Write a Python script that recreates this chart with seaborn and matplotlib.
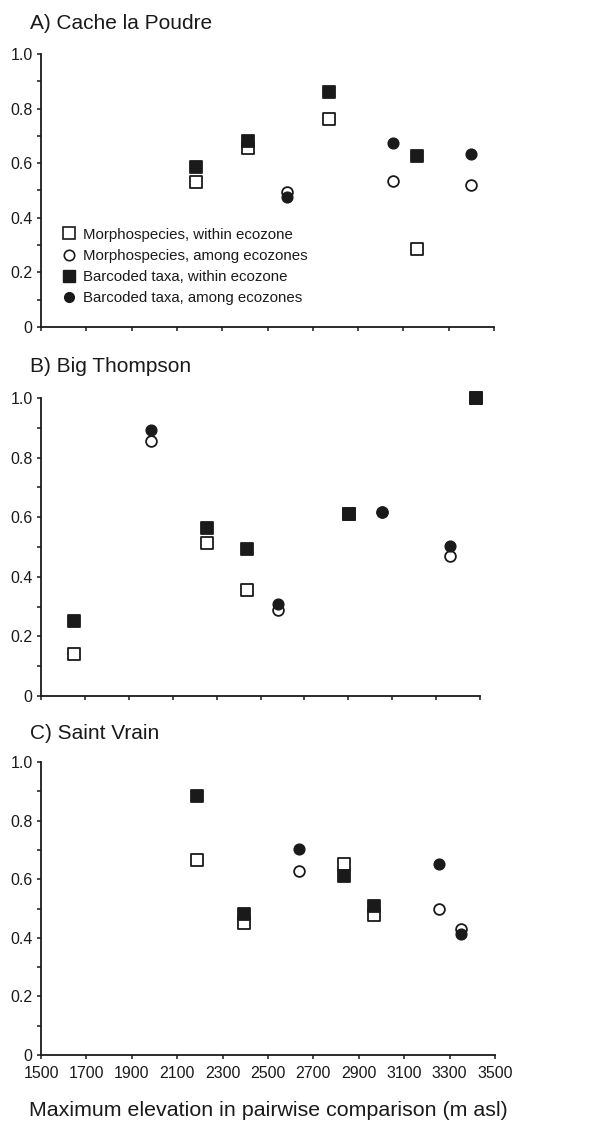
import matplotlib
matplotlib.use('Agg')
import numpy as np
import pandas as pd
import matplotlib.pyplot as plt
from matplotlib.lines import Line2D
from matplotlib.ticker import MultipleLocator
import seaborn as sns

# A) Cache la Poudre
cache_x_within = [2185, 2414, 2772, 3160]
cache_x_among = [2586, 3054, 3398]
cache_morph_within = [0.53, 0.655, 0.76, 0.285]
cache_morph_among = [0.495, 0.535, 0.52]
cache_barcode_within = [0.585, 0.68, 0.86, 0.625]
cache_barcode_among = [0.475, 0.675, 0.635]

# B) Big Thompson
big_x_within = [1650, 2256, 2438, 2903, 3481]
big_x_among = [2001, 2580, 3054, 3363]
big_morph_within = [0.14, 0.513, 0.356, 0.611, 1.0]
big_morph_among = [0.854, 0.289, 0.618, 0.471]
big_barcode_within = [0.252, 0.563, 0.493, 0.611, 1.0]
big_barcode_among = [0.894, 0.308, 0.618, 0.502]

# C) Saint Vrain
vrain_x_within = [2189, 2394, 2836, 2967]
vrain_x_among = [2638, 3255, 3350]
vrain_morph_within = [0.667, 0.452, 0.651, 0.477]
vrain_morph_among = [0.627, 0.498, 0.43]
vrain_barcode_within = [0.885, 0.483, 0.611, 0.509]
vrain_barcode_among = [0.702, 0.653, 0.414]

panel_titles = ['A) Cache la Poudre', 'B) Big Thompson', 'C) Saint Vrain']
series_labels = ['Morphospecies, within ecozone', 'Morphospecies, among ecozones',
                 'Barcoded taxa, within ecozone', 'Barcoded taxa, among ecozones']
x_ticks = list(range(1500, 3501, 200))
y_ticks = [0, 0.2, 0.4, 0.6, 0.8, 1.0]
y_ticklabels = ['0', '0.2', '0.4', '0.6', '0.8', '1.0']

sns.set_style('ticks')
plt.rcParams['font.family'] = ['Liberation Sans', 'DejaVu Sans']

fig = plt.figure(figsize=(6.06, 11.22), dpi=100)

# axes boxes in figure fractions (panel B is a bit narrower in the original)
boxes = [[0.0677, 0.7086, 0.7475, 0.2433],
         [0.0677, 0.3797, 0.7244, 0.2656],
         [0.0677, 0.0597, 0.7492, 0.2611]]
title_y = [0.974, 0.6684, 0.3414]

panels = [
    (cache_x_within, cache_x_among, cache_morph_within, cache_morph_among,
     cache_barcode_within, cache_barcode_among),
    (big_x_within, big_x_among, big_morph_within, big_morph_among,
     big_barcode_within, big_barcode_among),
    (vrain_x_within, vrain_x_among, vrain_morph_within, vrain_morph_among,
     vrain_barcode_within, vrain_barcode_among),
]

ink = '#1a1a1a'
sq_size = 80
ci_size = 60

for i, (xw, xa, mw, ma, bw, ba) in enumerate(panels):
    ax = fig.add_axes(boxes[i])
    # open markers first, filled ones on top
    sns.scatterplot(x=xw, y=mw, ax=ax, marker='s', s=sq_size, color='white',
                    edgecolor=ink, linewidth=1.3, clip_on=False, zorder=3)
    sns.scatterplot(x=xa, y=ma, ax=ax, marker='o', s=ci_size, color='white',
                    edgecolor=ink, linewidth=1.3, clip_on=False, zorder=3)
    sns.scatterplot(x=xw, y=bw, ax=ax, marker='s', s=sq_size, color=ink,
                    edgecolor=ink, linewidth=1.3, clip_on=False, zorder=4)
    sns.scatterplot(x=xa, y=ba, ax=ax, marker='o', s=ci_size, color=ink,
                    edgecolor=ink, linewidth=1.0, clip_on=False, zorder=4)

    ax.set_xlim(1500, 3500)
    ax.set_ylim(0, 1.0)
    ax.set_xticks(x_ticks)
    ax.set_yticks(y_ticks)
    ax.set_yticklabels(y_ticklabels)
    ax.yaxis.set_minor_locator(MultipleLocator(0.1))
    ax.tick_params(axis='both', which='both', direction='out', length=3,
                   width=1.1, color=ink, labelsize=11.5, labelcolor=ink)
    ax.tick_params(axis='x', pad=5)
    ax.tick_params(axis='y', pad=3)
    if i < 2:
        ax.set_xticklabels([])
    for side in ['top', 'right']:
        ax.spines[side].set_visible(False)
    for side in ['left', 'bottom']:
        ax.spines[side].set_linewidth(1.3)
        ax.spines[side].set_color(ink)
    ax.set_xlabel('')
    ax.set_ylabel('')

    fig.text(0.05, title_y[i], panel_titles[i], fontsize=15, color=ink,
             ha='left', va='baseline')

    if i == 0:
        handles = [
            Line2D([], [], ls='none', marker='s', markersize=8.5, markerfacecolor='white',
                   markeredgecolor=ink, markeredgewidth=1.2),
            Line2D([], [], ls='none', marker='o', markersize=7.5, markerfacecolor='white',
                   markeredgecolor=ink, markeredgewidth=1.2),
            Line2D([], [], ls='none', marker='s', markersize=8.5, markerfacecolor=ink,
                   markeredgecolor=ink),
            Line2D([], [], ls='none', marker='o', markersize=7.0, markerfacecolor=ink,
                   markeredgecolor=ink),
        ]
        ax.legend(handles, series_labels, loc='upper left', bbox_to_anchor=(0.048, 0.364),
                  frameon=False, borderpad=0, borderaxespad=0, handlelength=0.8,
                  handletextpad=0.55, labelspacing=0.48,
                  prop={'size': 10.8}, labelcolor=ink)

fig.text(0.4426, 0.005, 'Maximum elevation in pairwise comparison (m asl)',
         fontsize=15.4, color=ink, ha='center', va='baseline')

fig.savefig('out.png', dpi=100)
